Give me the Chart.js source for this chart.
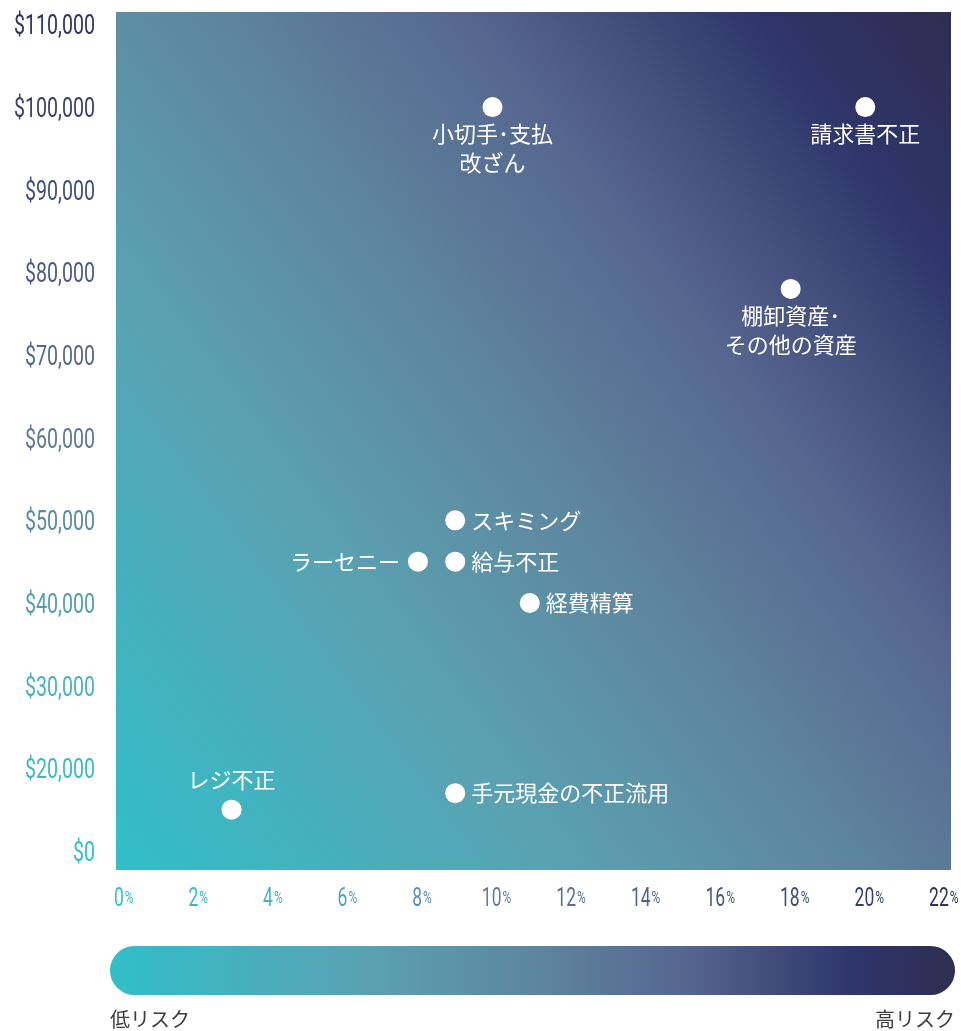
<!DOCTYPE html>
<html lang="ja">
<head>
<meta charset="utf-8">
<title>横領スキームのリスクと損失額</title>
<script src="https://cdn.jsdelivr.net/npm/chart.js@4.4.1/dist/chart.umd.min.js"></script>
<style>
  html, body { margin: 0; padding: 0; background: #fff; }
  #wrap { width: 961px; height: 1031px; }
</style>
</head>
<body>
<div id="wrap"><canvas id="myGraphic" width="961" height="1031"></canvas></div>
<script>
// スキームごとの発生率(%)と損失額の中央値
const schemes = ['小切手･支払\n改ざん', '請求書不正', '棚卸資産･\nその他の資産', 'スキミング', 'ラーセニー', '給与不正', '経費精算', '手元現金の不正流用', 'レジ不正'];
const riskPct = [10, 20, 18, 9, 8, 9, 11, 9, 3];
const medianLoss = [100000, 100000, 78000, 50000, 45000, 45000, 40000, 17000, 15000];
// ラベルを点のどちら側に置くか
const labelSide = ['below', 'below', 'below', 'right', 'left', 'right', 'right', 'right', 'above'];

const xTicks = [0, 2, 4, 6, 8, 10, 12, 14, 16, 18, 20, 22];
const yTicks = [10000, 20000, 30000, 40000, 50000, 60000, 70000, 80000, 90000, 100000, 110000];
const yTickLabels = ['$0', '$20,000', '$30,000', '$40,000', '$50,000', '$60,000', '$70,000', '$80,000', '$90,000', '$100,000', '$110,000'];

const lowLabel = '低リスク';
const highLabel = '高リスク';

const NUM_FONT = 'Roboto, "Liberation Sans", sans-serif';
const JP_FONT = '"Noto Sans CJK JP", "Noto Sans", sans-serif';
const SQUEEZE = 0.7; // 数字は縦長に詰める

// ティール → ネイビーのグラデーション(背景とバー)
const stops = [
  [0, [48, 191, 201]],
  [0.3, [90, 162, 178]],
  [0.5, [94, 134, 158]],
  [0.68, [86, 102, 143]],
  [0.88, [46, 53, 105]],
  [1, [47, 46, 82]]
];
// 目盛り文字の色
const tickStops = [
  [0, [50, 191, 201]],
  [0.2, [72, 178, 192]],
  [0.45, [95, 127, 156]],
  [0.55, [90, 110, 149]],
  [0.75, [71, 83, 134]],
  [1, [45, 52, 99]]
];

function colourFrom(list, t) {
  t = Math.max(0, Math.min(1, t));
  for (let i = 1; i < list.length; i++) {
    if (t <= list[i][0]) {
      const a = list[i - 1], b = list[i];
      const f = (t - a[0]) / (b[0] - a[0]);
      const c = a[1].map((v, k) => Math.round(v + (b[1][k] - v) * f));
      return 'rgb(' + c.join(',') + ')';
    }
  }
  return 'rgb(' + list[list.length - 1][1].join(',') + ')';
}

function addStops(grad) {
  stops.forEach(s => grad.addColorStop(s[0], colourFrom(stops, s[0])));
  return grad;
}

function measureSqueezed(ctx, text, size) {
  ctx.font = size + 'px ' + NUM_FONT;
  return ctx.measureText(text).width * SQUEEZE;
}

// 横方向に詰めて文字を書く
function squeezedText(ctx, text, x, y, size, align) {
  const w = measureSqueezed(ctx, text, size);
  let x0 = x;
  if (align === 'right') x0 = x - w;
  else if (align === 'center') x0 = x - w / 2;
  ctx.save();
  ctx.translate(x0, y);
  ctx.scale(SQUEEZE, 1);
  ctx.textAlign = 'left';
  ctx.fillText(text, 0, 0);
  ctx.restore();
  return w;
}

// 描画エリアの背景グラデーション
const areaBackground = {
  id: 'areaBackground',
  beforeDraw(chart) {
    const { ctx, chartArea: a } = chart;
    const w = a.right - a.left, h = a.bottom - a.top;
    // 左上と右下で色の進み方を変える
    const tl = 0.44, br = 0.57;
    const L = 1 / (tl * tl / (h * h) + br * br / (w * w));
    const dx = br * L / w, dy = tl * L / h;
    const g = ctx.createLinearGradient(a.left, a.bottom, a.left + dx, a.bottom - dy);
    addStops(g);
    ctx.save();
    ctx.fillStyle = g;
    ctx.fillRect(a.left, a.top, w, h);
    ctx.restore();
  }
};

// 点のラベル
const pointLabels = {
  id: 'pointLabels',
  afterDatasetsDraw(chart) {
    const { ctx } = chart;
    const meta = chart.getDatasetMeta(0);
    ctx.save();
    ctx.fillStyle = '#fff';
    ctx.font = '22px ' + JP_FONT;
    ctx.textBaseline = 'middle';
    meta.data.forEach((pt, i) => {
      const lines = schemes[i].split('\n');
      const side = labelSide[i];
      const lh = 29;
      lines.forEach((line, j) => {
        if (side === 'below') {
          ctx.textAlign = 'center';
          ctx.fillText(line, pt.x, pt.y + 27 + j * lh);
        } else if (side === 'above') {
          ctx.textAlign = 'center';
          ctx.fillText(line, pt.x, pt.y - 30 - (lines.length - 1 - j) * lh);
        } else if (side === 'right') {
          ctx.textAlign = 'left';
          ctx.fillText(line, pt.x + 16, pt.y);
        } else {
          ctx.textAlign = 'right';
          ctx.fillText(line, pt.x - 18, pt.y);
        }
      });
    });
    ctx.restore();
  }
};

// 軸の目盛りとリスクバー
const extras = {
  id: 'extras',
  afterDraw(chart) {
    const { ctx, scales, chartArea } = chart;
    const xs = scales.x, ys = scales.y;
    ctx.save();
    ctx.textBaseline = 'alphabetic';

    // Y軸: 金額
    yTicks.forEach((v, i) => {
      const py = ys.getPixelForValue(v);
      ctx.fillStyle = colourFrom(tickStops, i / (yTicks.length - 1));
      squeezedText(ctx, yTickLabels[i], chartArea.left - 21, py + 10, 28, 'right');
    });

    // X軸: 数字 + 小さい%
    xTicks.forEach((v, i) => {
      const px = xs.getPixelForValue(v);
      const num = String(v);
      const wn = measureSqueezed(ctx, num, 25);
      const wp = measureSqueezed(ctx, '%', 17);
      const x0 = px + 4 - (wn + wp + 1) / 2;
      ctx.fillStyle = colourFrom(tickStops, i / (xTicks.length - 1));
      squeezedText(ctx, num, x0, 906, 25, 'left');
      squeezedText(ctx, '%', x0 + wn + 1, 903, 17, 'left');
    });

    // 低リスク → 高リスクのバー
    const bx = 110, by = 946, bw = 845, bh = 49, r = bh / 2;
    const g = ctx.createLinearGradient(bx, 0, bx + bw, 0);
    addStops(g);
    ctx.fillStyle = g;
    ctx.beginPath();
    ctx.roundRect(bx, by, bw, bh, r);
    ctx.fill();

    ctx.fillStyle = '#3c3c3c';
    ctx.font = '20px ' + JP_FONT;
    ctx.textBaseline = 'middle';
    ctx.textAlign = 'left';
    ctx.fillText(lowLabel, bx, 1019);
    ctx.textAlign = 'right';
    ctx.fillText(highLabel, bx + bw, 1019);
    ctx.restore();
  }
};

const ctx = 'myGraphic';

const myChart = new Chart(ctx, {
  type: 'scatter',
  data: {
    datasets: [{
      label: '損失額の中央値',
      data: riskPct.map((x, i) => ({ x: x, y: medianLoss[i] })),
      backgroundColor: '#ffffff',
      borderWidth: 0,
      pointRadius: 10,
      pointHoverRadius: 10
    }]
  },
  options: {
    responsive: false,
    animation: false,
    events: [],
    layout: { padding: { top: 12, right: 9, left: 0, bottom: 121 } },
    scales: {
      x: {
        type: 'linear',
        min: -0.1,
        max: 22.3,
        grid: { display: false, drawTicks: false },
        border: { display: false },
        ticks: { display: false },
        afterFit(scale) { scale.height = 40; }
      },
      y: {
        type: 'linear',
        min: 7700,
        max: 111500,
        grid: { display: false, drawTicks: false },
        border: { display: false },
        ticks: { display: false },
        afterFit(scale) { scale.width = 116; }
      }
    },
    plugins: {
      legend: { display: false },
      tooltip: { enabled: false }
    }
  },
  plugins: [areaBackground, pointLabels, extras]
});
</script>
</body>
</html>
